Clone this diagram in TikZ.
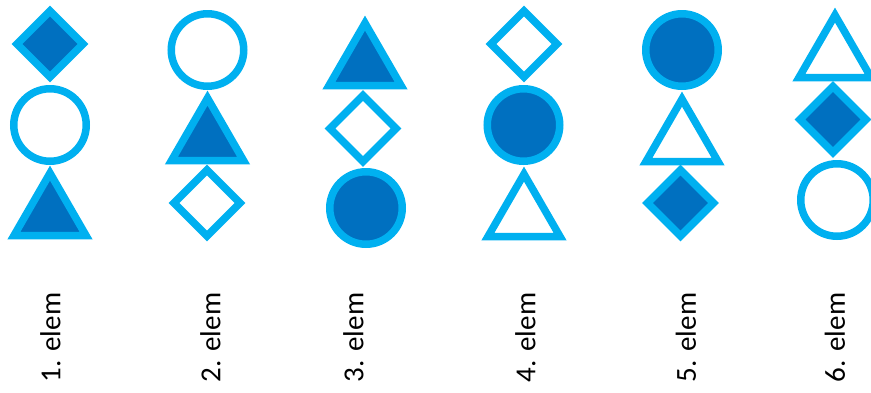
\documentclass[tikz,border=0pt]{standalone}
\usepackage{fontspec}
\usepackage{tikz}
\usetikzlibrary{shapes.geometric}
\newfontfamily\lblfont{Carlito}
\definecolor{skyblue}{RGB}{0,176,240}
\definecolor{deepblue}{RGB}{0,112,192}

\begin{document}
\begin{tikzpicture}[x=1pt, y=-1pt, every node/.style={inner sep=0pt, outer sep=0pt, line width=7.5pt, draw=skyblue},
	circ/.style={circle, minimum size=72.5pt},
	dia/.style={diamond, minimum size=66pt},
	tri/.style={regular polygon, regular polygon sides=3, minimum size=83.2pt},
	full/.style={fill=deepblue},
	lbl/.style={draw=none, rotate=90, font=\lblfont\fontsize{29}{29}\selectfont}]
	\useasboundingbox (0,0) rectangle (871,392);
	\node[dia, full] (d1) at (50,44) {};
	\node[circ] (c1) at (50,125) {};
	\node[tri, full] (t1) at (50,214.7) {};
	\node[circ] (c2) at (207.5,50) {};
	\node[tri, full] (t2) at (207.5,139.7) {};
	\node[dia] (d2) at (207,203) {};
	\node[tri, full] (t3) at (365,64.7) {};
	\node[dia] (d3) at (363,128.5) {};
	\node[circ, full] (c3) at (366,208) {};
	\node[dia] (d4) at (524,44) {};
	\node[circ, full] (c4) at (523.5,125) {};
	\node[tri] (t4) at (524,215.7) {};
	\node[circ, full] (c5) at (682,50) {};
	\node[tri] (t5) at (682,140.7) {};
	\node[dia, full] (d5) at (680.5,203) {};
	\node[tri] (t6) at (835,56.7) {};
	\node[dia, full] (d6) at (833,119.5) {};
	\node[circ] (c6) at (837,200) {};
	\foreach \n/\x in {1/50.5, 2/210.5, 3/353.5, 4/525.5, 5/686, 6/835} {\node[lbl] (l\n) at (\x,337.5) {\n. elem};}
\end{tikzpicture}
\end{document}
